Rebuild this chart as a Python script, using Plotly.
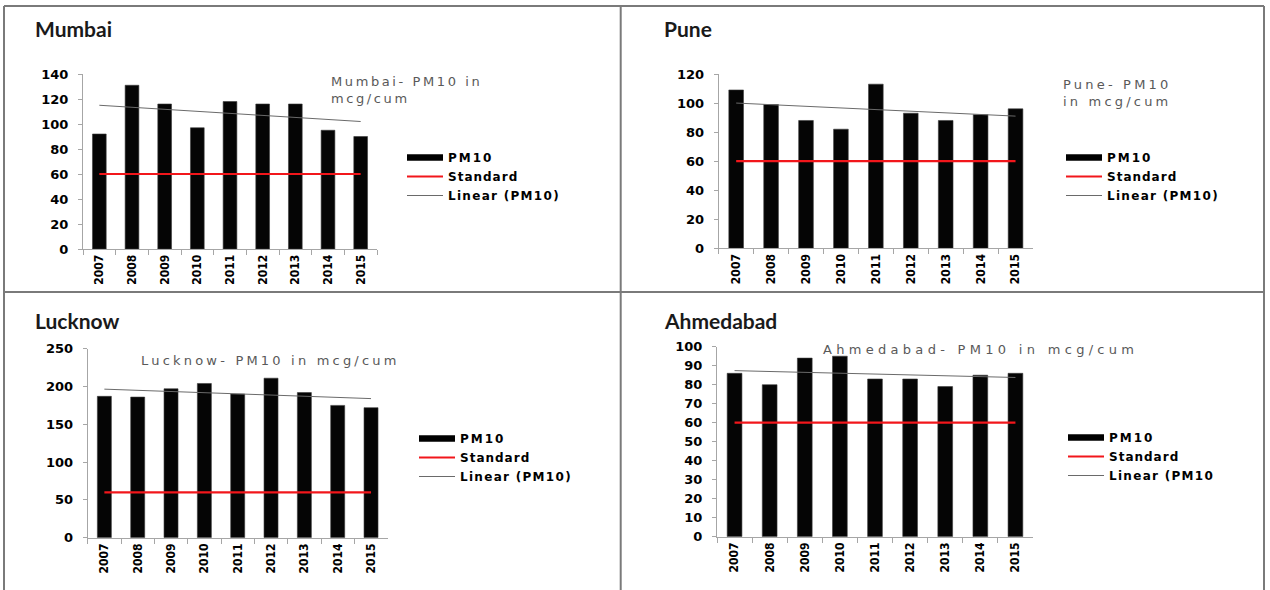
import plotly.graph_objects as go

# ---- data -------------------------------------------------------------
years = ["2007", "2008", "2009", "2010", "2011", "2012", "2013", "2014", "2015"]

mumbai_pm10 = [92, 131, 116, 97, 118, 116, 116, 95, 90]
pune_pm10 = [109, 99, 88, 82, 113, 93, 88, 92, 96]
lucknow_pm10 = [187, 186, 197, 204, 190, 211, 192, 175, 172]
ahmedabad_pm10 = [86, 80, 94, 95, 83, 83, 79, 85, 86]

# PM10 standard (mcg/cum)
standard_pm10 = 60

# linear trend of PM10: value at first and last year
mumbai_trend = [115, 102]
pune_trend = [100, 91]
lucknow_trend = [196.5, 184]
ahmedabad_trend = [87.4, 83.8]

legend_names = ["PM10", "Standard", "Linear (PM10)"]

# ---- layout config (pixels in a 1270 x 590 page) ----------------------
W, H = 1270, 590


def px(x):
    return x / W


def py(y):
    return 1 - y / H


panels = [
    dict(city="Mumbai", values=mumbai_pm10, trend=mumbai_trend,
         ymax=140, dtick=20, plot=(83, 377, 74, 249),
         title_xy=(33, 28),
         note="Mumbai- PM10 in<br>mcg/cum", note_xy=(329, 72), note_ls=2.6,
         legend_xy=(402, 143), legend_name="Linear (PM10)"),
    dict(city="Pune", values=pune_pm10, trend=pune_trend,
         ymax=120, dtick=20, plot=(718.7, 1033, 74, 248.3),
         title_xy=(662, 28),
         note="Pune- PM10<br>in mcg/cum", note_xy=(1061, 75), note_ls=3.2,
         legend_xy=(1061, 143), legend_name="Linear (PM10)"),
    dict(city="Lucknow", values=lucknow_pm10, trend=lucknow_trend,
         ymax=250, dtick=50, plot=(87.7, 387.7, 348.7, 537.7),
         title_xy=(33, 320),
         note="Lucknow- PM10 in mcg/cum", note_xy=(139, 351), note_ls=3.2,
         legend_xy=(414, 424), legend_name="Linear (PM10)"),
    dict(city="Ahmedabad", values=ahmedabad_pm10, trend=ahmedabad_trend,
         ymax=100, dtick=10, plot=(717, 1033, 346.7, 536.7),
         title_xy=(662, 320),
         note="Ahmedabad- PM10 in mcg/cum", note_xy=(821, 340), note_ls=4.3,
         legend_xy=(1063, 423), legend_name="Linear (PM10"),
]

AXIS_GREY = "#a6a6a6"
TICK_FONT = dict(family="DejaVu Sans", size=13, color="#000000", weight="bold")
YEAR_FONT = dict(family="Liberation Sans Narrow, DejaVu Sans Condensed, Arial Narrow",
                 size=12, color="#000000", weight="bold")
LEGEND_FONT = dict(family="DejaVu Sans", size=12, color="#000000", weight="bold")


def spaced(text, ls):
    return f"<span style='letter-spacing:{ls}px'>{text}</span>"


fig = go.Figure()
layout = dict(
    width=W, height=H,
    margin=dict(l=0, r=0, t=0, b=0, autoexpand=False),
    paper_bgcolor="white", plot_bgcolor="white",
    showlegend=True,
    annotations=[], shapes=[],
)

for i, p in enumerate(panels, start=1):
    xa = f"x{i}" if i > 1 else "x"
    ya = f"y{i}" if i > 1 else "y"
    lg = f"legend{i}" if i > 1 else "legend"
    x0, x1, y0, y1 = p["plot"]

    # PM10 bars
    fig.add_trace(go.Bar(
        x=years, y=p["values"], width=0.42,
        marker=dict(color="#050505", line=dict(color="#3a3a3a", width=0.6)),
        xaxis=xa, yaxis=ya, showlegend=False, hoverinfo="x+y",
    ))
    # legend-only key for the bars (drawn as a thick bar-like line)
    fig.add_trace(go.Scatter(
        x=[None], y=[None], mode="lines",
        line=dict(color="#000000", width=6.5),
        name=spaced(legend_names[0], 2), legend=lg, xaxis=xa, yaxis=ya,
    ))
    # standard line
    fig.add_trace(go.Scatter(
        x=years, y=[standard_pm10] * len(years), mode="lines",
        line=dict(color="#f2161b", width=2.2),
        name=spaced(legend_names[1], 1), legend=lg, xaxis=xa, yaxis=ya,
    ))
    # linear trend
    fig.add_trace(go.Scatter(
        x=[years[0], years[-1]], y=p["trend"], mode="lines",
        line=dict(color="#6a6a6a", width=1),
        name=spaced(p["legend_name"], 1.3), legend=lg, xaxis=xa, yaxis=ya,
    ))

    layout["xaxis" + (str(i) if i > 1 else "")] = dict(
        domain=[px(x0), px(x1)], anchor=ya, type="category",
        range=[-0.5, len(years) - 0.5],
        showline=True, linecolor=AXIS_GREY, linewidth=1,
        ticks="outside", tickson="boundaries", ticklen=5, tickcolor=AXIS_GREY,
        tickangle=-90, tickfont=YEAR_FONT, showgrid=False, zeroline=False,
        fixedrange=True, automargin=False,
    )
    layout["yaxis" + (str(i) if i > 1 else "")] = dict(
        domain=[py(y1), py(y0)], anchor=xa,
        range=[0, p["ymax"]], dtick=p["dtick"], tick0=0,
        showline=True, linecolor=AXIS_GREY, linewidth=1,
        ticks="outside", ticklen=4, tickcolor=AXIS_GREY,
        tickfont=TICK_FONT, ticklabelstandoff=7,
        showgrid=False, zeroline=False, fixedrange=True, automargin=False,
    )
    layout[lg] = dict(
        x=px(p["legend_xy"][0]), y=py(p["legend_xy"][1]),
        xanchor="left", yanchor="top",
        bgcolor="rgba(0,0,0,0)", font=LEGEND_FONT,
        traceorder="normal", itemclick=False, itemdoubleclick=False,
        tracegroupgap=0, itemwidth=36,
    )

    # city heading
    layout["annotations"].append(dict(
        text=f"<b>{p['city']}</b>", xref="paper", yref="paper",
        x=px(p["title_xy"][0]), y=py(p["title_xy"][1]),
        xanchor="left", yanchor="middle", showarrow=False,
        font=dict(family="Lato, Open Sans, sans-serif", size=21, color="#1a1a1a"),
    ))
    # chart caption
    ls = p["note_ls"]
    layout["annotations"].append(dict(
        text=spaced(p["note"].replace("<br>", f"</span><br><span style='letter-spacing:{ls}px'>"), ls),
        xref="paper", yref="paper",
        x=px(p["note_xy"][0]), y=py(p["note_xy"][1]),
        xanchor="left", yanchor="top", align="left", showarrow=False,
        font=dict(family="DejaVu Sans", size=13, color="#595959"),
    ))

# panel frame
FRAME = dict(color="#7a7a7a", width=2)
frame_lines = [
    (4, 6, 1264, 6), (4, 6, 4, 590), (1264, 6, 1264, 590),
    (620.7, 6, 620.7, 590), (4, 292, 1264, 292),
]
for (ax0, ay0, ax1, ay1) in frame_lines:
    layout["shapes"].append(dict(
        type="line", xref="paper", yref="paper",
        x0=px(ax0), y0=py(ay0), x1=px(ax1), y1=py(ay1), line=FRAME,
    ))

fig.update_layout(**layout)
fig.write_html("out.html", config=dict(displayModeBar=False))
